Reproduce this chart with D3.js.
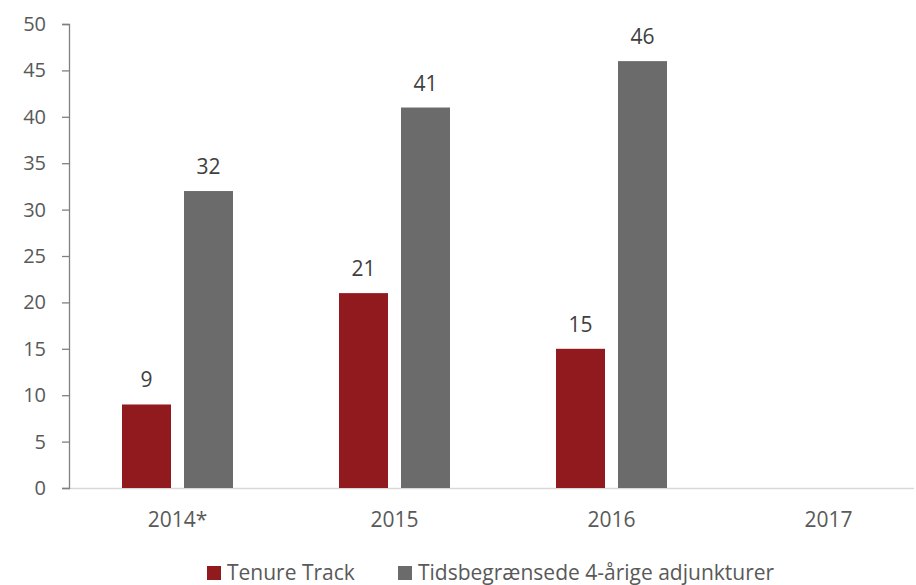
<!DOCTYPE html>
<html><head><meta charset="utf-8">
<script src="https://cdn.jsdelivr.net/npm/d3@7"></script>
<style>
body{margin:0;background:#fff;}
text{font-family:"Open Sans",sans-serif;}
</style></head>
<body><svg id="c" width="916" height="585"></svg>
<script>
const categories = ["2014*","2015","2016","2017"];
const tenureTrack = [9,21,15,null];
const tidsbegraensede = [32,41,46,null];
const seriesNames = ["Tenure Track","Tidsbegrænsede 4-årige adjunkturer"];
const yTicks = [0,5,10,15,20,25,30,35,40,45,50];
const colors = ["#911a1f","#6b6b6b"];

const svg = d3.select("#c");
const x0 = 69, yTop = 24, yBot = 488;
const x = d3.scaleBand().domain(categories).range([x0, x0 + 868]).paddingInner(0).paddingOuter(0);
const y = d3.scaleLinear().domain([0,50]).range([yBot, yTop]);
const barW = 49, gap = 13;

// x baseline
svg.append("line").attr("x1",x0).attr("x2",914).attr("y1",yBot+0.5).attr("y2",yBot+0.5)
  .attr("stroke","#d9d9d9").attr("stroke-width",1.5);

// y axis
const yAxis = d3.axisLeft(y).tickValues(yTicks).tickSize(7).tickPadding(16);
const ga = svg.append("g").attr("transform",`translate(${x0},0)`).call(yAxis);
ga.select(".domain").attr("stroke","#808080").attr("stroke-width",1.3);
ga.selectAll(".tick line").attr("stroke","#808080").attr("stroke-width",1.3);
ga.selectAll(".tick text").attr("fill","#595959").style("font-size","20px").style("font-family","Open Sans");

// x labels
svg.append("g").selectAll("text").data(categories).join("text")
  .attr("x", d => x(d) + x.bandwidth()/2).attr("y", 527)
  .attr("text-anchor","middle").attr("fill","#595959").style("font-size","21px").text(d=>d);

const series = [tenureTrack, tidsbegraensede];
series.forEach((vals, si) => {
  const g = svg.append("g");
  const data = categories.map((c,i)=>({c, v: vals[i]})).filter(d=>d.v!=null);
  const off = si===0 ? -(gap/2+barW) : gap/2;
  g.selectAll("rect").data(data).join("rect")
    .attr("x", d => x(d.c) + x.bandwidth()/2 + off)
    .attr("y", d => y(d.v)).attr("width", barW).attr("height", d => y(0)-y(d.v))
    .attr("fill", colors[si]);
  g.selectAll("text").data(data).join("text")
    .attr("x", d => x(d.c) + x.bandwidth()/2 + off + barW/2)
    .attr("y", d => y(d.v) - 17)
    .attr("text-anchor","middle").attr("fill","#404040").style("font-size","21px").text(d=>d.v);
});

// legend
const leg = svg.append("g");
const legX = [207, 398];
seriesNames.forEach((n,i)=>{
  leg.append("rect").attr("x",legX[i]).attr("y",566).attr("width",14).attr("height",14).attr("fill",colors[i]);
  leg.append("text").attr("x",legX[i]+20).attr("y",580).attr("fill","#595959").style("font-size","21px").text(n);
});
</script></body></html>
